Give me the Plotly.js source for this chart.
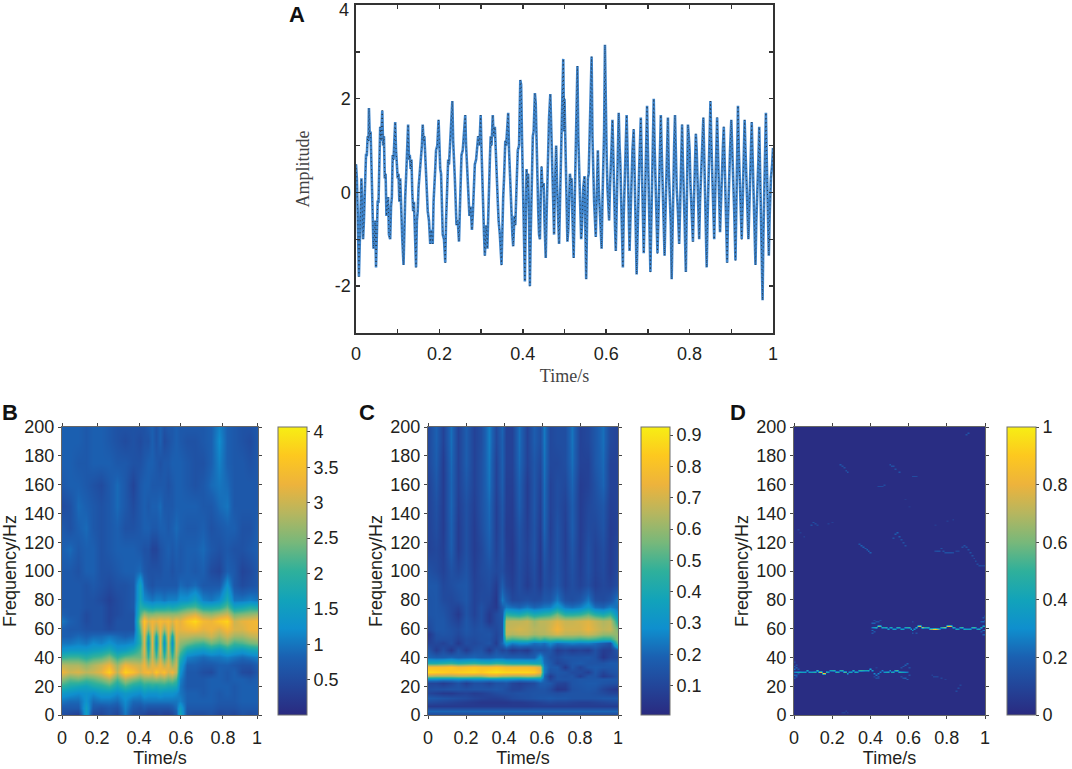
<!DOCTYPE html>
<html><head><meta charset="utf-8">
<script src="https://cdn.plot.ly/plotly-3.0.1.min.js"></script>
<style>html,body{margin:0;padding:0;background:#fff}#p{width:1072px;height:769px}</style></head>
<body><div id="p"></div>
<script>
// Panel A: amplitude samples [time, amplitude]
const ampSamples = [[0,.6],[.002,.3],[.004,-.4],[.007,-1.8],[.009,-1.1],[.011,-.4],[.013,.3],[.015,-.3],[.017,-1],[.019,-.6],[.021,.2],[.022,.7],[.024,.8],[.026,.8],[.028,1.2],[.03,1.1],[.031,1.8],[.033,1.2],[.035,1.3],[.037,.6],[.039,-.1],[.04,-.9],[.042,-1.2],[.044,-1],[.046,-.6],[.048,-1.6],[.05,-.9],[.052,-.2],[.054,-.2],[.056,.6],[.058,1.4],[.06,1.1],[.063,1.75],[.065,1],[.067,1.2],[.069,.3],[.071,.4],[.073,-.5],[.075,-.2],[.077,-.1],[.079,-.9],[.082,-1],[.084,-.3],[.086,-.1],[.088,.8],[.09,.7],[.092,1.1],[.094,1.5],[.096,.9],[.098,.6],[.1,.3],[.102,.4],[.104,-.2],[.106,.3],[.108,-.3],[.111,-1],[.114,-1.55],[.116,-.6],[.118,-.1],[.12,.3],[.122,.8],[.125,1.45],[.127,.7],[.129,.8],[.131,.5],[.133,.7],[.135,0],[.137,-.4],[.139,-.2],[.141,-.9],[.144,-1.6],[.146,-.6],[.148,-.4],[.15,.1],[.152,.3],[.155,.7],[.158,1],[.16,1.45],[.162,1.1],[.164,1.2],[.166,.7],[.168,.6],[.17,-.2],[.172,-.4],[.175,-.6],[.178,-1.1],[.18,-.8],[.184,-1.1],[.186,-.2],[.188,.4],[.19,.5],[.192,.9],[.195,1],[.198,1.55],[.2,.8],[.202,.5],[.204,.4],[.206,-.3],[.208,-.9],[.211,-1],[.214,-1.5],[.216,-.6],[.219,.2],[.221,.7],[.223,.6],[.226,1.2],[.229,1.85],[.231,1.95],[.233,1.1],[.235,.8],[.237,.3],[.239,-.2],[.241,-.7],[.244,-.6],[.247,-1.05],[.249,-.4],[.251,.2],[.253,.8],[.256,.9],[.259,1.3],[.262,1.65],[.264,1],[.266,.6],[.268,.1],[.27,-.1],[.272,-.5],[.275,-.3],[.278,-.8],[.28,-.5],[.283,.1],[.285,.6],[.288,.7],[.29,1],[.293,1.2],[.296,1],[.299,1.65],[.301,.9],[.303,.1],[.305,-.5],[.307,-.9],[.309,-1.35],[.312,-.7],[.315,-1.2],[.317,-.3],[.319,.1],[.321,.7],[.323,1.2],[.325,1],[.328,1.65],[.33,1.2],[.333,1.4],[.335,.8],[.337,.4],[.34,-.2],[.342,-.6],[.345,-.9],[.349,-1.55],[.351,-.5],[.353,-.1],[.355,.3],[.358,1.1],[.36,1],[.363,1.5],[.365,1.7],[.367,.9],[.369,.4],[.371,.2],[.373,-.4],[.375,-.9],[.377,-1.15],[.38,-.5],[.382,-.7],[.384,.2],[.386,.4],[.388,.9],[.391,1],[.394,2.4],[.396,2.3],[.398,1.2],[.4,.3],[.402,-.5],[.405,-1.9],[.407,-.6],[.409,.5],[.411,.1],[.413,.4],[.415,-.6],[.417,-2],[.419,-.9],[.421,.1],[.424,1.2],[.426,1.3],[.429,2.12],[.431,1.9],[.433,.9],[.435,.2],[.437,-.4],[.439,-.9],[.441,-1],[.443,-.1],[.445,.55],[.447,.1],[.45,.2],[.452,-.6],[.455,-1.4],[.457,-.5],[.459,.3],[.461,1.2],[.463,1.6],[.466,2.1],[.468,1.3],[.47,.4],[.472,-.4],[.475,-.9],[.477,.1],[.48,1],[.482,.2],[.484,-.4],[.487,-1.1],[.489,-.3],[.491,.8],[.494,1.7],[.497,2.85],[.499,1.3],[.5,2],[.502,1],[.504,0],[.507,-1.05],[.509,-.8],[.511,-.2],[.513,.4],[.515,.2],[.517,.3],[.519,-.5],[.522,-1.4],[.524,-.4],[.526,.5],[.528,1.4],[.531,2.7],[.533,1.2],[.535,.4],[.537,-.3],[.54,-1],[.542,-.7],[.545,.1],[.548,.35],[.55,-.6],[.552,-1.85],[.554,-.7],[.556,.3],[.558,.4],[.56,1.1],[.562,1.6],[.565,2.9],[.567,1.2],[.569,.3],[.571,-.2],[.575,-.95],[.577,-.3],[.58,.9],[.582,.1],[.585,-.4],[.589,-1.2],[.591,-.2],[.593,.7],[.595,1.3],[.597,3.15],[.599,1.2],[.601,.8],[.603,.1],[.605,-.2],[.607,-.6],[.609,.1],[.611,.9],[.613,1],[.615,1.55],[.617,.6],[.619,-.1],[.621,-.7],[.623,-1.25],[.625,-.5],[.627,.4],[.63,1.7],[.632,1],[.634,.6],[.636,-.2],[.638,-.8],[.64,-1.6],[.642,-.5],[.645,.4],[.647,1],[.649,1.65],[.651,.9],[.653,.2],[.656,-1.25],[.658,-.6],[.66,.1],[.663,.9],[.666,1.35],[.668,.4],[.67,-.4],[.673,-1.75],[.675,-1],[.677,-.1],[.679,.5],[.683,1.6],[.685,.8],[.687,.1],[.69,-1.3],[.692,-.6],[.694,.4],[.696,1],[.698,1.85],[.7,.9],[.702,.1],[.704,-.6],[.706,-1.7],[.708,-.7],[.71,.3],[.712,1.1],[.714,2],[.716,1],[.718,.3],[.72,-.4],[.723,-1.3],[.725,-.6],[.727,.3],[.729,.9],[.731,1.65],[.733,.9],[.735,.2],[.737,-.3],[.74,-1.35],[.742,-.5],[.744,.2],[.746,.9],[.748,1.6],[.75,.5],[.752,-.1],[.755,-.7],[.757,-1.85],[.759,-.6],[.761,.2],[.763,1],[.765,1.65],[.767,.7],[.769,.1],[.772,-.4],[.775,-1.1],[.777,-.4],[.779,.3],[.782,1.45],[.784,.6],[.786,.1],[.788,-.6],[.791,-1.7],[.793,-.2],[.796,1.45],[.798,1.2],[.8,.9],[.802,.2],[.805,-.4],[.808,-1.05],[.81,-.3],[.812,.4],[.815,1.25],[.817,.9],[.819,.3],[.821,-.3],[.823,-1],[.825,-.2],[.828,.6],[.83,1],[.833,1.6],[.835,.8],[.837,.1],[.839,-.7],[.841,-1.6],[.843,-.6],[.845,.3],[.848,1.2],[.85,1.95],[.852,1.1],[.854,.4],[.857,-.3],[.859,-1],[.861,-.2],[.863,.7],[.866,1.6],[.868,.9],[.87,.1],[.873,-.85],[.875,-.3],[.877,.4],[.88,1],[.882,1.4],[.884,.7],[.886,.1],[.888,-.6],[.89,-1.5],[.892,-.6],[.894,.2],[.897,.9],[.9,1.55],[.902,1.1],[.904,.5],[.907,-.4],[.91,-1.45],[.912,-.3],[.914,.8],[.916,1.85],[.918,.9],[.92,.3],[.922,-.3],[.925,-1],[.927,-.3],[.93,.8],[.932,1.55],[.934,.9],[.936,.4],[.938,-.3],[.941,-1],[.943,-.4],[.946,.6],[.949,1.5],[.951,.8],[.953,.2],[.955,-.5],[.958,-1.55],[.96,-.6],[.962,.2],[.965,.7],[.967,1.4],[.969,.6],[.971,-.1],[.973,-1],[.975,-2.3],[.977,-.9],[.979,.1],[.981,.8],[.983,1.7],[.985,.7],[.987,0],[.99,-1.35],[.992,-.5],[.995,.3],[.998,.6],[1,.95]];
const ampTickVals = [-3,-2,-1,0,1,2,3,4];
const ampTickText = ["","-2","","0","","2","",""];
const ampTopLabel = "4";
const timeTickVals = [0,.1,.2,.3,.4,.5,.6,.7,.8,.9,1];
const timeTickText = ["0","","0.2","","0.4","","0.6","","0.8","","1"];

const freqTicks = [0,20,40,60,80,100,120,140,160,180,200];
const heatTimeText = ["0","0.2","0.4","0.6","0.8","1"];
const heatTimeVals = [0,.2,.4,.6,.8,1];
const heatTimeValsB = [0,.179,.393,.607,.821,.995];

// Panel B
const timeB = [0,.04,.08,.12,.16,.2,.24,.28,.32,.36,.4,.42,.44,.46,.48,.5,.52,.54,.56,.58,.6,.64,.68,.72,.76,.8,.84,.88,.92,.96,1];
const freqB = [0,5,10,15,20,25,30,35,40,45,50,55,60,65,70,75,80,90,100,115,130,145,160,175,190,200];
const powerB = [
[.55,.4,.3,1.5,.4,.4,.6,.4,1,.5,.5,.4,.3,.3,.3,.4,.3,.3,.4,.7,1.7,.6,.5,.5,.6,.4,.5,.4,.6,.5,.6],
[.7,.7,.7,1.5,.7,.6,.7,.6,1.1,.7,.6,.7,.6,.6,.6,.6,.6,.6,.7,.9,1.5,.7,.7,.7,.7,.6,.6,.6,.7,.7,.7],
[1,.9,.9,1.3,.9,1,1,.9,1.2,.9,.9,1,1,1,1,1,1,1,1,1,1.1,.8,.8,.8,.8,.7,.7,.7,.8,.8,.8],
[1.4,1.3,1.2,1.3,1.2,1.4,1.4,1.2,1.4,1.3,1.2,1.4,1.3,1.3,1.3,1.4,1.3,1.3,1.3,1.2,1,.8,.8,.7,.8,.7,.8,.7,.8,.8,.8],
[2,1.8,1.7,1.6,1.8,1.9,2.1,1.7,2.1,1.8,1.7,1.9,1.8,1.9,1.8,1.9,1.9,1.8,1.8,1.7,1,.7,.7,.7,.8,.8,.8,.7,.8,.8,.8],
[2.6,2.3,2.4,2.2,2.3,2.5,2.8,2.2,2.8,2.5,2.3,2.5,2.5,2.5,2.6,2.5,2.6,2.4,2.5,2.2,1.1,.7,.7,.7,.8,.8,.7,.8,.8,.7,.8],
[3.3,3,3.1,2.9,3,3.2,3.75,2.9,3.75,3.5,3.1,3.3,3.4,3.2,3.6,3.3,3.5,3.1,3.3,2.9,1.3,.7,.7,.55,.5,.8,.7,.8,.5,.45,.7],
[2.9,2.8,2.8,2.6,2.8,3,3.3,2.7,3.3,3.1,3,3.3,2.8,3.2,3,3.3,2.9,3.2,2.7,3,1.5,.8,.8,.7,.7,.8,.8,.7,.6,.6,.8],
[2,2.1,2.1,1.9,2.1,2.2,2.5,2,2.3,2.4,2.4,3,2.1,3,2.2,3,2.1,2.9,2.1,2.8,1.9,1.1,1,.9,1,1,1.1,1,.9,1,1.1],
[1.3,1.4,1.4,1.4,1.5,1.6,1.8,1.4,1.5,1.8,2.2,3.1,1.7,3.1,1.7,3.2,1.6,3,1.6,3,2.3,1.7,1.5,1.4,1.6,1.4,1.7,1.5,1.4,1.6,1.7],
[1,1,1.1,1,1.2,1.1,1.3,1.1,1.1,1.2,1.9,3.1,1.4,3.2,1.4,3.2,1.3,3.1,1.3,3.1,2.6,2.4,2.2,2.1,2.4,2.2,2.5,2.1,2.2,2.4,2.5],
[.8,.8,.9,.8,.9,.9,1,.9,.8,.9,2,3.2,1.7,3.2,1.7,3.2,1.7,3.2,1.7,3.2,2.9,2.9,2.8,2.8,3,2.7,3,2.7,2.7,2.9,3],
[.8,.7,.7,.6,.6,.6,.5,.6,.6,.6,2.3,3.4,2.6,3.3,2.7,3.3,2.7,3.3,2.7,3.3,3.2,3.3,3.4,3.2,3.3,3.1,3.4,3.1,3.1,3.3,3.3],
[1,.8,.7,.5,.6,.6,.4,.6,.6,.6,2.6,3.6,3.1,3.3,3.2,3.4,3.3,3.4,3.1,3.4,3.2,3.6,3.85,3.4,3.3,3.6,3.8,3,3.2,3.3,3.4],
[.8,.7,.7,.5,.6,.6,.4,.5,.6,.6,2.2,2.7,2.5,2.5,2.6,2.6,2.6,2.6,2.6,2.6,2.7,2.9,3.1,2.7,2.6,2.8,3,2.4,2.5,2.6,2.7],
[.7,.7,.7,.6,.6,.6,.4,.5,.6,.7,1.9,1.8,1.7,1.6,1.7,1.7,1.7,1.8,1.7,1.8,1.9,2.1,2.2,1.8,1.8,1.9,2.3,1.6,1.7,1.9,1.8],
[.7,.7,.7,.6,.6,.5,.35,.5,.6,.7,1.7,1.2,1.1,1,1.1,1.1,1,1.1,1.1,1.1,1.3,1.3,1.6,1.1,1,1.2,1.8,1,1,1.1,1],
[.7,.7,.7,.6,.7,.6,.5,.6,.6,.7,1.6,.9,.7,.6,.7,.7,.7,.7,.7,.7,.9,.8,.9,.7,.7,.7,1.3,.7,.5,.6,.7],
[.7,.7,.6,.8,.8,.6,.6,.7,.8,.8,.9,.7,.6,.6,.6,.6,.7,.7,.6,.7,.7,.8,.7,.8,.5,.4,.8,.7,.4,.5,.7],
[.8,.9,.7,.8,.8,.6,.7,.8,.8,.8,.7,.6,.6,.4,.4,.6,.7,.8,.7,.8,.7,.8,.8,.9,.7,.6,.7,.6,.6,.7,.8],
[.7,.6,.8,.9,.7,.6,.7,.8,.6,.6,.7,.8,.8,.7,.7,.8,.8,.7,.8,.9,.8,.7,.7,.8,.6,.7,.8,.8,.6,.6,.8],
[.5,.6,.9,.8,.7,.6,.7,.9,.7,.5,.7,.8,.7,.8,.8,.9,.7,.7,.7,.8,.8,.8,.8,.7,.7,.9,1,.7,.7,.7,.7],
[.7,.8,.8,.7,.6,.5,.7,.9,.7,.4,.7,.8,.8,.7,.7,.7,.7,.6,.7,.8,.8,.7,.6,.7,.9,1,.9,.7,.7,.7,.7],
[.8,.8,.7,.7,.8,.8,.8,.7,.7,.6,.6,.7,.8,.8,.7,.6,.7,.7,.8,.8,.8,.7,.6,.6,.8,1.1,.8,.7,.7,.6,.7],
[.8,.8,.8,.7,.8,.8,.7,.6,.5,.6,.5,.6,.6,.8,.6,.8,.5,.6,.7,.8,.7,.6,.6,.7,.8,1.2,.8,.7,.6,.5,.7],
[.8,.8,.8,.7,.8,.8,.7,.6,.6,.6,.6,.6,.7,.8,.6,.8,.6,.7,.7,.8,.7,.7,.7,.7,.8,1.1,.8,.7,.6,.6,.7]];
const barTicksB = [.5,1,1.5,2,2.5,3,3.5,4];

// Panel C
const timeC = [0,.04,.08,.12,.16,.2,.24,.28,.32,.36,.39,.41,.44,.48,.52,.56,.59,.61,.64,.68,.72,.76,.8,.84,.88,.92,.96,1];
const freqC = [0,3,6,9,12,15,18,22,25,27,30,33,36,40,45,50,53,56,60,65,70,75,80,90,100,115,130,145,160,175,190,200];
const powerC = [
[.1,.1,.1,.1,.1,.1,.1,.1,.1,.1,.1,.1,.1,.1,.1,.1,.1,.1,.1,.1,.1,.1,.1,.1,.1,.1,.1,.1],
[.2,.2,.2,.2,.2,.2,.2,.2,.2,.2,.2,.2,.2,.2,.2,.2,.2,.2,.2,.2,.2,.2,.2,.2,.2,.2,.2,.2],
[.06,.06,.06,.06,.06,.06,.06,.06,.06,.06,.06,.06,.06,.06,.06,.07,.07,.07,.07,.07,.07,.07,.07,.07,.07,.07,.07,.07],
[.12,.11,.1,.09,.08,.07,.06,.05,.05,.05,.05,.05,.06,.06,.07,.08,.09,.1,.11,.1,.1,.09,.08,.08,.09,.1,.11,.12],
[.17,.16,.15,.14,.13,.12,.1,.09,.08,.08,.09,.1,.12,.13,.14,.15,.16,.16,.17,.16,.16,.15,.15,.15,.15,.16,.16,.17],
[.1,.08,.06,.06,.08,.09,.07,.08,.1,.12,.13,.13,.13,.14,.14,.15,.15,.15,.14,.13,.14,.15,.15,.15,.14,.12,.1,.1],
[.13,.14,.14,.15,.15,.14,.15,.15,.15,.16,.15,.13,.1,.1,.13,.14,.15,.15,.12,.05,.06,.14,.15,.16,.15,.1,.07,.05],
[.1,.1,.07,.1,.14,.08,.13,.13,.1,.14,.14,.15,.1,.08,.1,.12,.18,.18,.16,.1,.09,.15,.16,.17,.17,.15,.14,.14],
[.28,.28,.27,.27,.28,.27,.28,.28,.28,.28,.28,.28,.28,.27,.28,.28,.3,.2,.1,.15,.15,.15,.16,.16,.16,.16,.16,.16],
[.62,.6,.6,.6,.62,.62,.6,.6,.66,.66,.62,.62,.6,.6,.62,.6,.55,.2,.07,.15,.14,.15,.08,.15,.15,.07,.1,.15],
[.88,.86,.85,.83,.85,.86,.87,.84,.88,.9,.88,.87,.87,.87,.87,.85,.75,.25,.14,.16,.15,.12,.12,.08,.16,.1,.14,.16],
[.8,.8,.8,.82,.78,.8,.82,.8,.8,.82,.8,.78,.78,.78,.78,.76,.7,.25,.17,.17,.06,.16,.1,.16,.17,.16,.16,.17],
[.42,.42,.44,.46,.42,.44,.46,.43,.42,.46,.44,.42,.4,.4,.4,.38,.38,.22,.17,.1,.12,.16,.17,.15,.15,.15,.17,.17],
[.2,.18,.18,.2,.18,.19,.2,.18,.18,.2,.2,.18,.18,.18,.17,.18,.3,.2,.14,.12,.15,.15,.15,.16,.14,.05,.1,.12],
[.16,.07,.13,.05,.15,.07,.14,.15,.06,.15,.1,.12,.06,.09,.06,.14,.14,.14,.16,.07,.1,.07,.09,.07,.14,.07,.08,.17],
[.09,.11,.09,.13,.06,.13,.11,.13,.15,.07,.2,.32,.25,.28,.28,.22,.24,.22,.28,.22,.24,.26,.24,.25,.22,.18,.14,.55],
[.07,.13,.13,.13,.09,.13,.12,.14,.14,.09,.17,.52,.48,.5,.52,.46,.5,.46,.5,.48,.5,.5,.48,.5,.48,.44,.45,.6],
[.05,.14,.15,.14,.11,.15,.13,.14,.15,.1,.15,.66,.64,.66,.66,.62,.64,.64,.66,.7,.66,.66,.65,.68,.65,.6,.6,.6],
[.11,.16,.16,.14,.12,.16,.13,.15,.13,.11,.15,.68,.68,.7,.68,.65,.66,.66,.7,.76,.7,.7,.7,.74,.7,.66,.68,.55],
[.13,.16,.16,.12,.09,.16,.11,.14,.06,.12,.15,.65,.66,.66,.68,.62,.66,.66,.68,.72,.68,.68,.7,.72,.68,.64,.66,.4],
[.15,.16,.15,.11,.06,.15,.09,.14,.06,.12,.16,.45,.42,.4,.46,.4,.42,.44,.46,.55,.44,.44,.46,.52,.44,.4,.46,.28],
[.15,.16,.14,.11,.09,.15,.09,.14,.09,.06,.18,.24,.22,.2,.24,.2,.22,.24,.25,.34,.24,.22,.25,.32,.22,.2,.25,.22],
[.15,.16,.12,.11,.13,.16,.09,.12,.11,.05,.24,.18,.11,.12,.14,.12,.13,.16,.16,.24,.14,.13,.16,.24,.13,.12,.15,.25],
[.16,.16,.11,.13,.15,.16,.09,.11,.13,.07,.18,.11,.08,.13,.07,.12,.07,.13,.11,.16,.09,.13,.09,.13,.08,.11,.09,.13],
[.14,.12,.09,.14,.11,.15,.08,.12,.14,.11,.13,.09,.07,.13,.08,.13,.06,.14,.1,.15,.09,.14,.08,.14,.09,.12,.07,.12],
[.09,.11,.08,.18,.07,.14,.07,.11,.18,.09,.15,.08,.06,.14,.09,.15,.06,.17,.09,.15,.08,.16,.07,.14,.09,.13,.07,.11],
[.09,.13,.07,.19,.07,.14,.07,.13,.2,.08,.15,.07,.07,.15,.08,.15,.07,.2,.08,.15,.08,.18,.07,.12,.11,.15,.07,.09],
[.09,.14,.07,.2,.08,.14,.08,.14,.21,.08,.16,.08,.07,.18,.07,.16,.08,.21,.09,.13,.09,.18,.07,.11,.13,.16,.08,.09],
[.09,.16,.07,.2,.09,.16,.09,.14,.23,.09,.18,.08,.08,.19,.07,.16,.09,.22,.09,.13,.11,.2,.07,.09,.14,.2,.09,.09],
[.11,.18,.07,.21,.09,.18,.09,.14,.24,.09,.19,.09,.09,.21,.09,.16,.11,.23,.11,.11,.13,.22,.09,.09,.16,.21,.09,.09],
[.11,.19,.09,.22,.09,.18,.09,.13,.25,.11,.19,.09,.09,.22,.09,.18,.13,.24,.11,.13,.13,.23,.09,.11,.16,.22,.11,.09],
[.11,.19,.09,.22,.09,.18,.09,.13,.25,.11,.2,.09,.09,.22,.09,.18,.13,.24,.11,.13,.13,.23,.09,.11,.16,.22,.11,.09]];
const barTicksC = [.1,.2,.3,.4,.5,.6,.7,.8,.9];

// Panel D: ridge read every 0.01 s, plus sparse marks [time, freq, value]
const ridgeLowFreq = [30,30,30,30,30,30,30,31,30,30,30,30,31,30,30,29,29,30,30,31,31,31,30,30,31,31,30,30,29,30,30,31,30,30,31,31,31,31,31,31,32,31,29,28,29,30,31,30,30,30,31,30,30,31,31,30,30,30,30,30];
const ridgeLowValue = [.25,.35,.4,.42,.38,.35,.4,.45,.4,.38,.42,.48,.55,.65,.8,.9,.75,.5,.4,.38,.42,.48,.5,.45,.42,.5,.55,.5,.42,.38,.42,.48,.45,.4,.48,.5,.45,.4,.4,.45,.45,.4,.3,.25,.3,.28,.28,.32,.4,.45,.4,.38,.45,.5,.55,.5,.42,.38,.3,.25];
const ridgeHighFreq = [61,61,61,62,62,61,61,61,60,61,61,60,60,61,61,60,60,61,61,61,60,59,60,61,62,62,61,61,61,61,60,60,60,60,60,60,61,61,61,62,62,62,61,61,60,60,61,61,60,60,60,60,61,61,61,60,60,61,62,62];
const ridgeHighValue = [.28,.38,.5,.62,.58,.45,.4,.48,.42,.4,.45,.4,.38,.48,.45,.4,.38,.42,.45,.5,.4,.32,.38,.5,.7,.82,.7,.5,.45,.5,.6,.65,.85,.92,.7,.5,.48,.55,.65,.8,.88,.7,.5,.42,.45,.38,.45,.52,.45,.4,.38,.42,.5,.52,.45,.4,.45,.5,.45,.32];
const ridgeStart = [0,.41];
const sparseMarks = [[0,26,.16],[0,28,.22],[0,32,.24],[0,34,.2],[0,37,.12],[.01,27,.16],[.01,28,.2],[.01,33,.2],[.01,35,.14],[.02,29,.15],[.02,32,.15],
[.42,27,.1],[.43,26,.14],[.44,26,.12],[.43,33,.08],[.44,27,.14],[.56,27,.12],[.57,26,.16],[.58,26,.2],[.59,25,.2],[.56,33,.14],[.57,34,.16],[.58,35,.2],[.59,36,.2],[.6,28,.14],[.6,33,.14],
[.41,57,.16],[.41,59,.22],[.41,64,.2],[.42,58,.16],[.42,64,.2],[.42,66,.12],[.43,65,.14],[.44,65,.14],[.45,66,.12],[.62,57,.14],[.62,65,.1],[.64,57,.14],[.98,58,.16],[.98,65,.2],[.99,56,.2],[.99,59,.22],[.99,65,.22],[.99,68,.16],[1,56,.2],[1,59,.24],[1,66,.24],[1,69,.16],
[.24,174,.16],[.25,173,.14],[.26,172,.14],[.27,170,.14],[.28,169,.16],[.5,174,.15],[.51,173,.14],[.52,173,.14],[.53,171,.14],[.55,169,.16],[.62,166,.12],[.63,166,.13],[.64,166,.12],
[.44,159,.12],[.45,159,.12],[.46,159,.12],[.47,160,.12],[.9,195,.14],[.91,196,.16],[.09,132,.14],[.1,134,.14],[.11,133,.12],[.12,132,.1],[.18,133,.08],[.2,134,.08],[.02,129,.08],[.03,127,.07],[.05,124,.08],
[.34,119,.16],[.35,118,.2],[.36,117,.2],[.37,116,.18],[.38,115,.2],[.39,114,.2],[.4,113,.2],[.52,123,.14],[.53,126,.18],[.54,127,.2],[.55,124,.18],[.56,122,.14],[.57,120,.14],[.58,118,.14],
[.74,114,.12],[.75,114,.14],[.76,114,.14],[.77,116,.14],[.78,114,.14],[.79,113,.14],[.8,113,.14],[.81,113,.14],[.82,113,.14],[.83,113,.12],[.85,114,.1],[.86,114,.1],[.88,117,.14],[.89,118,.14],[.9,117,.14],[.91,115,.14],[.92,113,.14],[.93,111,.14],[.94,109,.12],[.95,107,.12],[.96,105,.12],[.97,104,.12],[.98,104,.1],[.99,104,.1],[1,104,.1],
[.72,28,.08],[.73,27,.1],[.74,27,.1],[.75,27,.1],[.77,26,.1],[.79,25,.08],[.85,17,.12],[.86,19,.12],[.87,21,.1],[.25,2,.07],[.26,2,.08],[.27,3,.08],[.28,2,.07],[.58,150,.06],[.6,145,.05],[.8,135,.07],[.83,136,.07],[.74,132,.06]];
const barTicksD = [0,.2,.4,.6,.8,1];
const backgroundD = .012;

// ---- layout ----
const W=1072,H=769;
const dx=(a,b)=>[a/W,b/W], dy=(t,b)=>[1-b/H,1-t/H];
const ink='#231f20', sans='"Liberation Sans",Arial,sans-serif', serif='"Liberation Serif","Times New Roman",serif';
const scale=[[0,'#2a2a80'],[.1,'#234599'],[.2,'#1b60b1'],[.3,'#0f8fce'],[.4,'#12a3ba'],[.5,'#2fb09b'],[.6,'#78b87a'],[.7,'#b6b65f'],[.8,'#edb33c'],[.9,'#fdc81f'],[1,'#f7ee14']];
const labelSize=18;

function bar(left,ticks,text){return {x:left/W,xanchor:'left',xpad:0,y:(1-715/H),yanchor:'bottom',ypad:0,len:288/H,lenmode:'fraction',thickness:29,thicknessmode:'pixels',outlinecolor:'#6e6e6e',outlinewidth:1,
 tickmode:'array',tickvals:ticks,ticktext:text||ticks.map(String),ticks:'outside',ticklen:3,tickcolor:'#444',tickfont:{family:sans,size:labelSize,color:ink},bgcolor:'rgba(0,0,0,0)'};}

const timeD=[];for(let i=0;i<=100;i++)timeD.push(i/100);
const freqD=[];for(let f=0;f<=200;f++)freqD.push(f);
const powerD=freqD.map(()=>timeD.map(()=>backgroundD));
function put(t,f,v){const c=Math.round(t*100);if(f>=0&&f<=200&&c>=0&&c<=100)powerD[f][c]=Math.max(powerD[f][c],v);}
ridgeLowFreq.forEach((f,i)=>put(ridgeStart[0]+i/100,f,ridgeLowValue[i]));
ridgeHighFreq.forEach((f,i)=>put(ridgeStart[1]+i/100,f,ridgeHighValue[i]));
sparseMarks.forEach(m=>put(m[0],m[1],m[2]));

const ampT=ampSamples.map(s=>s[0]), ampV=ampSamples.map(s=>s[1]);
const data=[
 {type:'scatter',mode:'lines',x:ampT,y:ampV,xaxis:'x',yaxis:'y',line:{color:'#3f85cc',width:2.6},hoverinfo:'skip'},
 {type:'scatter',mode:'lines',x:ampT,y:ampV,xaxis:'x',yaxis:'y',line:{color:'#222',width:.8,dash:'1px,3px'},hoverinfo:'skip'},
 {type:'heatmap',x:timeB,y:freqB,z:powerB,xaxis:'x2',yaxis:'y2',zsmooth:'best',zmin:0,zmax:4.07,colorscale:scale,colorbar:bar(278,barTicksB)},
 {type:'heatmap',x:timeC,y:freqC,z:powerC,xaxis:'x3',yaxis:'y3',zsmooth:'best',zmin:.007,zmax:.926,colorscale:scale,colorbar:bar(641,barTicksC)},
 {type:'heatmap',x:timeD,y:freqD,z:powerD,xaxis:'x4',yaxis:'y4',zsmooth:'best',zmin:0,zmax:1,colorscale:scale,colorbar:bar(1007,barTicksD)}
];
function hx(domain,anchor,vals){return {domain:dx(...domain),anchor,range:[0,1],tickmode:'array',tickvals:vals,ticktext:heatTimeText,ticks:'outside',ticklen:3,tickcolor:'#444',showline:true,linecolor:'#666',linewidth:1,mirror:'all',showgrid:false,zeroline:false,tickfont:{family:sans,size:labelSize,color:ink},ticklabelstandoff:3,
 title:{text:'Time/s',font:{family:sans,size:labelSize,color:ink},standoff:3}};}
function hy(anchor){return {domain:dy(427,715),anchor,range:[0,200],tickmode:'array',tickvals:freqTicks,ticktext:freqTicks.map(String),ticks:'outside',ticklen:3,tickcolor:'#444',showline:true,linecolor:'#666',linewidth:1,mirror:'all',showgrid:false,zeroline:false,tickfont:{family:sans,size:labelSize,color:ink},ticklabeloverflow:'allow',
 title:{text:'Frequency/Hz',font:{family:sans,size:labelSize,color:ink},standoff:3}};}
const letters=[['A',297,14],['B',10,412],['C',367,412],['D',738,412]].map(a=>({text:'<b>'+a[0]+'</b>',xref:'paper',yref:'paper',x:a[1]/W,y:1-a[2]/H,xanchor:'center',yanchor:'middle',showarrow:false,font:{family:sans,size:22,color:'#111'}}));
const topLabel={text:ampTopLabel,xref:'paper',yref:'paper',x:351/W,y:1-10/H,xanchor:'right',yanchor:'middle',xshift:0,showarrow:false,font:{family:sans,size:labelSize,color:ink}};
const layout={width:W,height:H,margin:{l:0,r:0,t:0,b:0},paper_bgcolor:'#fff',plot_bgcolor:'#fff',showlegend:false,
 xaxis:{domain:dx(356,773),anchor:'y',range:[0,1],tickmode:'array',tickvals:timeTickVals,ticktext:timeTickText,ticks:'inside',ticklen:4,tickwidth:1.5,tickcolor:'#333',showline:true,linecolor:'#333',linewidth:1.6,mirror:'ticks',showgrid:false,zeroline:false,tickfont:{family:sans,size:labelSize,color:ink},ticklabelstandoff:4,
  title:{text:'Time/s',font:{family:serif,size:labelSize,color:'#444'},standoff:6}},
 yaxis:{domain:dy(5,333),anchor:'x',range:[-3,4],tickmode:'array',tickvals:ampTickVals,ticktext:ampTickText,ticks:'inside',ticklen:4,tickwidth:1.5,tickcolor:'#333',showline:true,linecolor:'#333',linewidth:1.6,mirror:'ticks',showgrid:false,zeroline:false,tickfont:{family:sans,size:labelSize,color:ink},
  title:{text:'Amplitude',font:{family:serif,size:labelSize,color:'#444'},standoff:20}},
 xaxis2:hx([62,258],'y2',heatTimeValsB),yaxis2:hy('x2'),
 xaxis3:hx([428,618],'y3',heatTimeVals),yaxis3:hy('x3'),
 xaxis4:hx([794,985],'y4',heatTimeVals),yaxis4:hy('x4'),
 annotations:letters.concat([topLabel])
};
Plotly.newPlot('p',data,layout,{displayModeBar:false,staticPlot:true});
</script></body></html>
